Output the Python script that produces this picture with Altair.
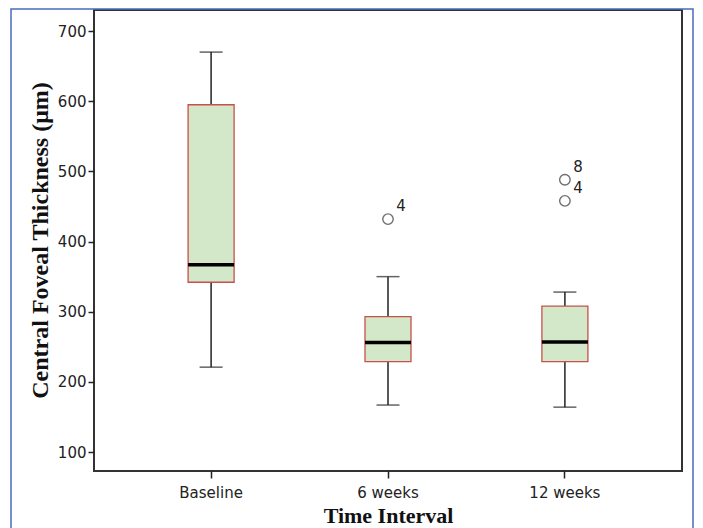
import altair as alt
import pandas as pd

groups = ["Baseline", "6 weeks", "12 weeks"]
whisker_low = [221, 167, 164]
q1 = [342, 229, 229]
median = [367, 256, 257]
q3 = [595, 293, 308]
whisker_high = [670, 350, 328]

outlier_group = ["6 weeks", "12 weeks", "12 weeks"]
outlier_value = [432, 488, 458]
outlier_label = ["4", "8", "4"]

y_ticks = [100, 200, 300, 400, 500, 600, 700]

box = pd.DataFrame({"group": groups, "lo": whisker_low, "q1": q1,
                    "med": median, "q3": q3, "hi": whisker_high})
outl = pd.DataFrame({"group": outlier_group, "value": outlier_value,
                     "label": outlier_label})

xs = alt.Scale(domain=groups, paddingInner=0, paddingOuter=0.162)
ys = alt.Scale(domain=[73, 730], nice=False, zero=False)

x_enc = alt.X("group:N", scale=xs, sort=groups,
              axis=alt.Axis(title="Time Interval", labelAngle=0, domain=False,
                            tickSize=7, tickWidth=1.5, tickColor="#222",
                            labelFont="DejaVu Sans", labelFontSize=15,
                            labelColor="#222", labelPadding=7,
                            titleFont="Liberation Serif", titleFontSize=22,
                            titleFontWeight="bold", titleColor="#111",
                            titleY=44, titleBaseline="middle"))
y_axis = alt.Axis(title="Central Foveal Thickness (μm)", values=y_ticks,
                  grid=False, domain=False, tickSize=6, tickWidth=1.5,
                  tickColor="#222", labelFont="DejaVu Sans", labelFontSize=15,
                  labelColor="#222", labelPadding=2,
                  titleFont="Liberation Serif", titleFontSize=24,
                  titleFontWeight="bold", titleColor="#111",
                  titleAngle=270, titleX=-54, titleY=230,
                  titleAlign="center", titleBaseline="middle")

base = alt.Chart(box)

whisk = base.mark_rule(color="#222", strokeWidth=1.5).encode(
    x=x_enc, y=alt.Y("lo:Q", scale=ys, axis=y_axis), y2="hi:Q")

caps = base.transform_fold(["lo", "hi"], as_=["k", "v"]).mark_tick(
    color="#222", size=23, thickness=1.5).encode(
    x=alt.X("group:N", scale=xs, sort=groups), y=alt.Y("v:Q", scale=ys))

boxes = base.mark_bar(width=46, fill="#d3e8c8", stroke="#c8504a",
                      strokeWidth=1.3).encode(
    x=alt.X("group:N", scale=xs, sort=groups),
    y=alt.Y("q1:Q", scale=ys), y2="q3:Q")

med = base.mark_tick(color="#000", size=46, thickness=3.5, opacity=1).encode(
    x=alt.X("group:N", scale=xs, sort=groups), y=alt.Y("med:Q", scale=ys))

pts = alt.Chart(outl).mark_point(shape="circle", filled=False, size=110,
                                 color="#333", strokeWidth=1.4).encode(
    x=alt.X("group:N", scale=xs, sort=groups), y=alt.Y("value:Q", scale=ys))

labels = alt.Chart(outl).mark_text(dx=13, dy=-13, font="DejaVu Sans",
                                   fontSize=15, color="#222").encode(
    x=alt.X("group:N", scale=xs, sort=groups), y=alt.Y("value:Q", scale=ys),
    text="label:N")

frame = alt.Chart(pd.DataFrame({"f": [0]})).mark_rect(
    fill=None, stroke="#4a6cc0", strokeWidth=1.5).encode(
    x=alt.value(-83), x2=alt.value(599), y=alt.value(-1), y2=alt.value(560))

chart = alt.layer(whisk, caps, boxes, med, pts, labels, frame).properties(
    width=588, height=461,
    autosize=alt.AutoSizeParams(type="none"),
    padding={"left": 86, "top": 2, "right": 13, "bottom": 57},
    background="white",
).configure_view(stroke="#333", strokeWidth=2)

chart.save("out.html", embed_options={"renderer": "svg", "actions": False})
